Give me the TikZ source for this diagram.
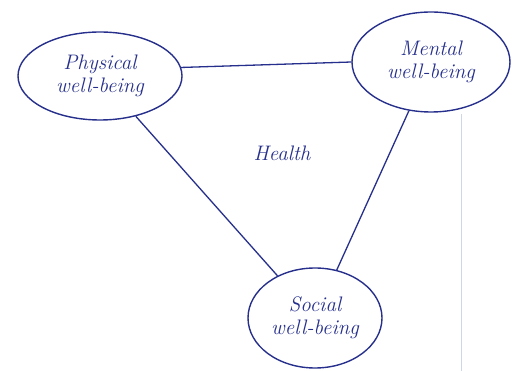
\documentclass[tikz,border=0pt]{standalone}
\usetikzlibrary{shapes.geometric}
\definecolor{ink}{RGB}{38,48,140}
\definecolor{scanline}{RGB}{205,215,232}
\begin{document}
\begin{tikzpicture}[x=1pt,y=-1pt,
  bubble/.style={draw=ink,ellipse,line width=1.4pt,inner sep=0pt,align=center,text=ink,
    font=\fontsize{21}{23}\selectfont\itshape},
  link/.style={draw=ink,line width=1.3pt}]
\useasboundingbox[fill=white] (0,0) rectangle (512,371);
\draw[scanline,line width=1pt] (461,114) -- (461,371);
\node[bubble,minimum width=164pt,minimum height=88pt] (phys) at (100,76) {Physical\\well-being};
\node[bubble,minimum width=158pt,minimum height=100pt] (ment) at (431,62) {Mental\\well-being};
\node[bubble,minimum width=134pt,minimum height=100pt] (soc) at (315,318) {Social\\well-being};
\node[text=ink,font=\fontsize{21}{23}\selectfont\itshape] (health) at (282,153) {Health};
\draw[link] (phys.6) -- (ment.west);
\draw[link] (phys) -- (soc);
\draw[link] (ment) -- (soc);
\end{tikzpicture}
\end{document}
